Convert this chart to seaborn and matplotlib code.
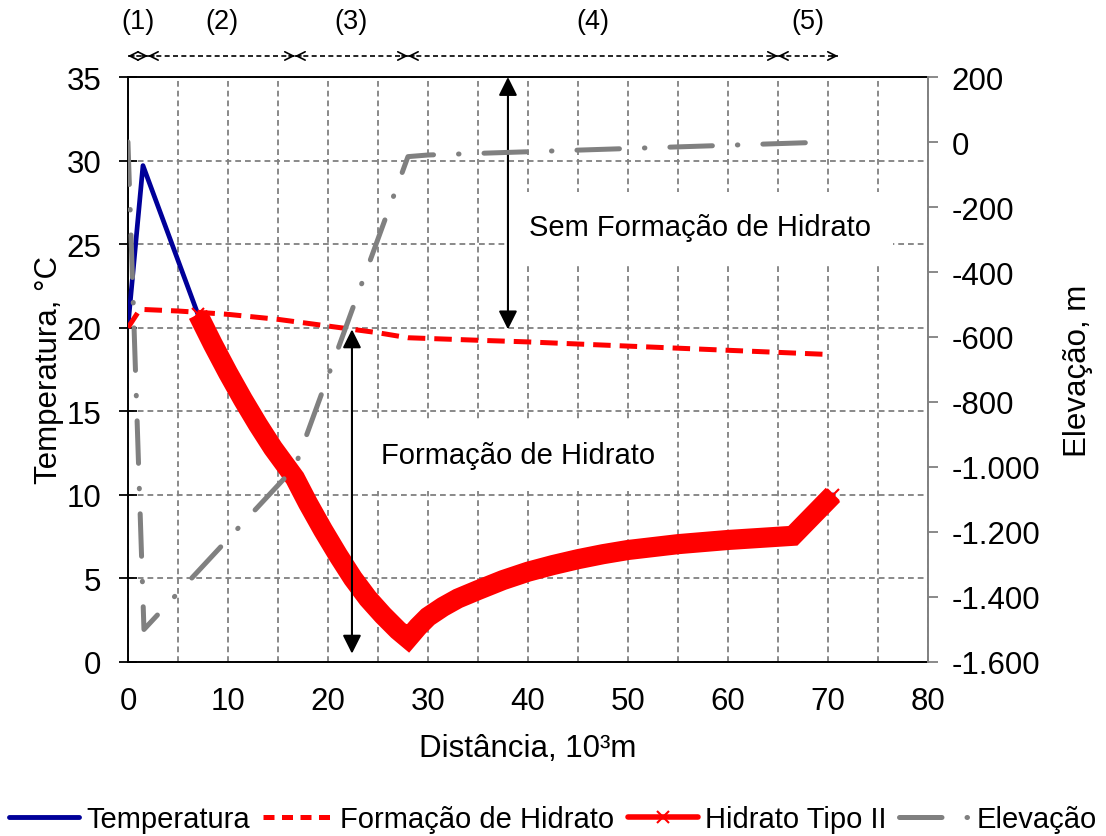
import matplotlib
matplotlib.use("Agg")
import matplotlib.pyplot as plt
from matplotlib.lines import Line2D
from matplotlib.ticker import MultipleLocator, FuncFormatter
import seaborn as sns
import pandas as pd

# ---------------- data ----------------
hyd_x = [7, 8.5, 10, 11.5, 13, 14.5, 16.7, 18, 19.5, 21, 22.5, 24, 25.5, 27, 28,
         29, 30, 31.5, 33, 35, 37.5, 40, 42.5, 45, 47.5, 50, 55, 60, 66.5, 70.5]
hyd_y = [20.8, 19.0, 17.3, 15.7, 14.2, 12.8, 11.0, 9.5, 7.9, 6.4, 5.0, 3.8, 2.8, 1.9, 1.4,
         2.1, 2.7, 3.3, 3.8, 4.3, 4.9, 5.4, 5.8, 6.15, 6.45, 6.7, 7.05, 7.3, 7.55, 10.0]

temp_x = [0, 1.5] + hyd_x
temp_y = [20.1, 29.7] + hyd_y

form_x = [0, 1.2, 5, 10, 15, 20, 25, 28, 35, 40, 50, 60, 70]
form_y = [20.0, 21.1, 21.0, 20.8, 20.5, 20.1, 19.7, 19.4, 19.25, 19.15, 18.9, 18.65, 18.4]

elev_x = [0, 1.6, 16.7, 28, 30, 40, 50, 60, 70]
elev_y = [0, -1500, -1000, -45, -40, -30, -20, -10, 0]

section_labels = ["(1)", "(2)", "(3)", "(4)", "(5)"]
section_bounds = [0, 2, 16.7, 28, 65, 71]

x_ticks = [0, 10, 20, 30, 40, 50, 60, 70, 80]
y_ticks = [0, 5, 10, 15, 20, 25, 30, 35]
y2_ticks = [200, 0, -200, -400, -600, -800, -1000, -1200, -1400, -1600]

# ---------------- style ----------------
sns.set_theme(style="white")
plt.rcParams["font.family"] = ["Liberation Sans", "DejaVu Sans"]
plt.rcParams["axes.unicode_minus"] = False
for k in ["text.color", "axes.labelcolor", "xtick.color", "ytick.color"]:
    plt.rcParams[k] = "black"

BLUE = "#000099"
RED = "#FF0000"
GRAY = "#808080"
ELEV_DASH = (0, (8.5, 5.0, 0.1, 5.0))

fig = plt.figure(figsize=(11.06, 8.37), dpi=100)
ax = fig.add_axes([0.1157, 0.2079, 0.7233, 0.6989])
ax2 = ax.twinx()

df_t = pd.DataFrame({"x": temp_x, "y": temp_y})
df_f = pd.DataFrame({"x": form_x, "y": form_y})
df_h = pd.DataFrame({"x": hyd_x, "y": hyd_y})
df_e = pd.DataFrame({"x": elev_x, "y": elev_y})

sns.lineplot(data=df_t, x="x", y="y", ax=ax, color=BLUE, lw=3.4, sort=False,
             estimator=None, zorder=3)
sns.lineplot(data=df_h, x="x", y="y", ax=ax, color=RED, lw=14.5, sort=False,
             estimator=None, marker="x", markersize=9, markeredgewidth=1.5,
             markeredgecolor=RED, solid_capstyle="butt", solid_joinstyle="miter",
             zorder=4)
sns.lineplot(data=df_f, x="x", y="y", ax=ax, color=RED, lw=3.6, sort=False,
             estimator=None, linestyle=(0, (3.5, 1.8)), zorder=5)
sns.lineplot(data=df_e, x="x", y="y", ax=ax2, color=GRAY, lw=3.6, sort=False,
             estimator=None, linestyle=ELEV_DASH, dash_capstyle="round", zorder=3)

# ---------------- axes ----------------
ax.set_xlim(0, 80)
ax.set_ylim(0, 35)
ax2.set_ylim(-1600, 200)
ax.set_xticks(x_ticks)
ax.set_yticks(y_ticks)
ax2.set_yticks(y2_ticks)
ax.xaxis.set_minor_locator(MultipleLocator(5))
ax2.yaxis.set_major_formatter(FuncFormatter(lambda v, p: f"{int(v):,}".replace(",", ".")))

ax.set_axisbelow(True)
ax.grid(True, which="both", axis="x", color=GRAY, lw=1.3, linestyle=(0, (3.2, 2.2)))
ax.grid(True, which="major", axis="y", color=GRAY, lw=1.3, linestyle=(0, (3.2, 2.2)))
ax2.grid(False)

ax.tick_params(axis="x", which="major", direction="inout", length=13, width=1.3,
               color="black", labelsize=22.5, pad=11)
ax.tick_params(axis="x", which="minor", length=0)
ax.tick_params(axis="y", which="major", direction="inout", length=13, width=1.3,
               color="black", labelsize=22.5, pad=12.5, left=True, right=False)
ax2.tick_params(axis="y", direction="out", length=7, width=1.3, color=GRAY,
                labelsize=22.5, pad=10, right=True)

for s in ["left", "bottom", "top"]:
    ax.spines[s].set_color("black")
    ax.spines[s].set_linewidth(1.4)
ax.spines["right"].set_visible(False)
for s in ["left", "bottom", "top"]:
    ax2.spines[s].set_visible(False)
ax2.spines["right"].set_color(GRAY)
ax2.spines["right"].set_linewidth(1.4)

ax.set_xlabel("Distância, 10³m", fontsize=22.5, labelpad=12)
ax.set_ylabel("Temperatura, °C", fontsize=22.5, labelpad=2)
ax2.set_ylabel("Elevação, m", fontsize=22.5, labelpad=16)

# ---------------- annotations ----------------
ax.text(57.2, 26.0, "Sem Formação de Hidrato", fontsize=21, ha="center", va="center",
        bbox=dict(boxstyle="square,pad=0.75", fc="white", ec="none"), zorder=2)
ax.text(39.0, 12.4, "Formação de Hidrato", fontsize=21, ha="center", va="center",
        bbox=dict(boxstyle="square,pad=0.75", fc="white", ec="none"), zorder=2)

ax.annotate("", xy=(38, 35), xytext=(38, 19.9),
            arrowprops=dict(arrowstyle="<|-|>", color="black", lw=1.5,
                            mutation_scale=28, shrinkA=0, shrinkB=0), zorder=6)
ax.annotate("", xy=(22.4, 19.9), xytext=(22.4, 0.5),
            arrowprops=dict(arrowstyle="<|-|>", color="black", lw=1.5,
                            mutation_scale=28, shrinkA=0, shrinkB=0), zorder=6)

trans = ax.get_xaxis_transform()
y_arr = 1.036
y_lab = 1.096
for i, lab in enumerate(section_labels):
    x0, x1 = section_bounds[i], section_bounds[i + 1]
    ax.plot([x0, x1], [y_arr, y_arr], transform=trans, color="black", lw=1.2,
            linestyle=(0, (3, 2)), clip_on=False)
    ax.annotate("", xy=(x0, y_arr), xytext=(x0 + 0.6, y_arr), xycoords=trans,
                textcoords=trans,
                arrowprops=dict(arrowstyle="->", color="black", lw=1.2,
                                mutation_scale=15, shrinkA=0, shrinkB=0))
    ax.annotate("", xy=(x1, y_arr), xytext=(x1 - 0.6, y_arr), xycoords=trans,
                textcoords=trans,
                arrowprops=dict(arrowstyle="->", color="black", lw=1.2,
                                mutation_scale=15, shrinkA=0, shrinkB=0))
    ax.text((x0 + x1) / 2, y_lab, lab, transform=trans, ha="center", va="center",
            fontsize=19.5)

# ---------------- legend ----------------
handles = [
    Line2D([], [], color=BLUE, lw=3.5),
    Line2D([], [], color=RED, lw=3.6, linestyle=(0, (2.2, 1.5))),
    Line2D([], [], color=RED, lw=4, marker="x", markersize=9, markeredgewidth=1.5),
    Line2D([], [], color=GRAY, lw=3.6, linestyle=ELEV_DASH, dash_capstyle="round"),
]
labels = ["Temperatura", "Formação de Hidrato", "Hidrato Tipo II", "Elevação"]
fig.legend(handles, labels, loc="center", bbox_to_anchor=(0.5, 0.02), ncol=4,
           frameon=False, fontsize=21, handlelength=2.4, handletextpad=0.25,
           columnspacing=0.45, borderaxespad=0, borderpad=0)

fig.savefig("out.png", dpi=100)
